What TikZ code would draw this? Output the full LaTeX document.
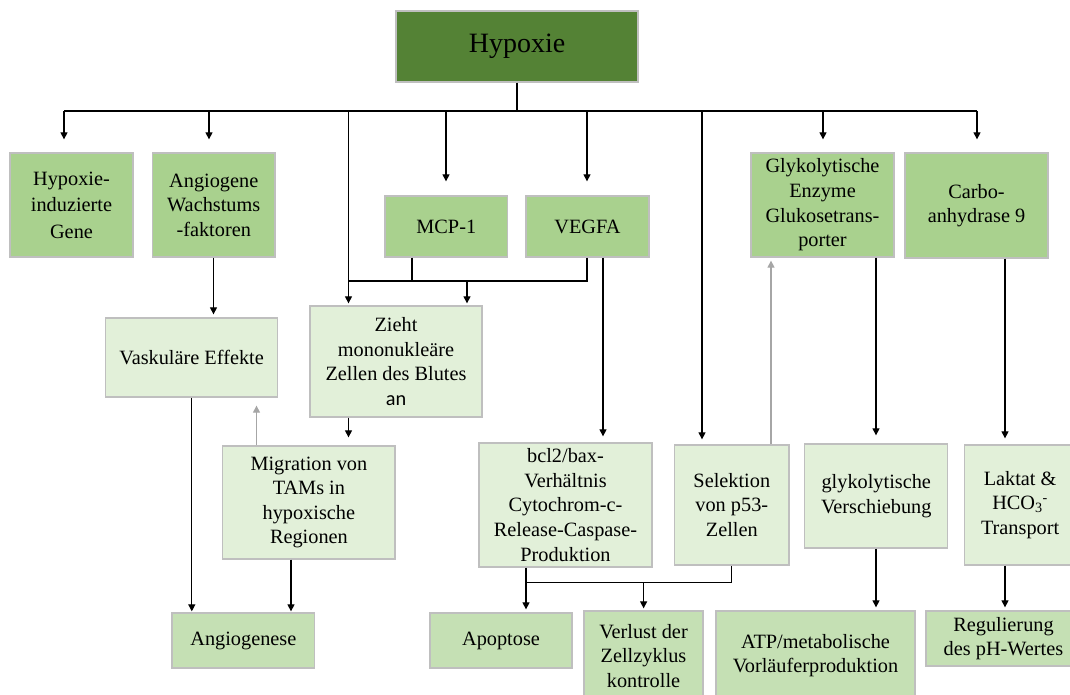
\documentclass[tikz,border=0pt]{standalone}
\usepackage{fontspec}
\setmainfont{Liberation Serif}
\newfontfamily\calibri{Carlito}
\usetikzlibrary{arrows.meta}
\definecolor{dkgreen}{HTML}{548235}
\definecolor{greenA}{HTML}{A9D18E}
\definecolor{greenB}{HTML}{E2F0D9}
\definecolor{greenC}{HTML}{C5E0B4}
\definecolor{boxborder}{HTML}{BFBFBF}
\definecolor{arrowgray}{HTML}{A6A6A6}
\begin{document}
\begin{tikzpicture}[x=1pt,y=-1pt,
  box/.style={draw=boxborder, line width=1.3pt, inner sep=0pt, align=center,
    font=\fontsize{20.3}{24.6}\selectfont, text=black},
  lvA/.style={box, fill=greenA},
  lvB/.style={box, fill=greenB},
  lvC/.style={box, fill=greenC},
  ln/.style={line width=1.2pt, draw=black},
  arr/.style={ln, -{Triangle[width=7pt,length=7pt]}},
  gar/.style={line width=1.2pt, draw=arrowgray, -{Triangle[width=7pt,length=7pt]}}]
\clip (0,0) rectangle (1070,695);
\fill[white] (0,0) rectangle (1070,695);

% top
\node[box, fill=dkgreen, minimum width=242, minimum height=71,
  font=\fontsize{28}{32}\selectfont] (hyp) at (517,46.5) {Hypoxie};

% row 1
\node[lvA, minimum width=123, minimum height=104] (hig) at (71.5,205)
  {Hypoxie-\\[2pt]induzierte\\[2pt]Gene};
\node[lvA, minimum width=122.5, minimum height=104] (awf) at (213.75,205)
  {Angiogene\\Wachstums\\-faktoren};
\node[lvA, minimum width=122.6, minimum height=61] (mcp) at (446.3,226.5) {MCP-1};
\node[lvA, minimum width=123, minimum height=61] (vegfa) at (587.5,226.5) {VEGFA};
\node[lvA, minimum width=143, minimum height=104] (gly) at (822.5,205)
  {Glykolytische\\Enzyme\\Glukosetrans-\\porter};
\node[lvA, minimum width=143, minimum height=105] (carbo) at (976.5,205.5)
  {Carbo-\\anhydrase 9};

% middle
\node[lvB, minimum width=171.8, minimum height=79] (vask) at (191.6,357.5)
  {Vaskuläre Effekte};
\node[lvB, minimum width=172, minimum height=111] (zieht) at (396,361.5)
  {Zieht\\mononukleäre\\Zellen des Blutes\\{\calibri an}};
\node[lvB, minimum width=172.2, minimum height=113] (migr) at (308.9,502.5)
  {Migration von\\TAMs in\\hypoxische\\Regionen};
\node[lvB, minimum width=173, minimum height=124] (bcl2) at (565.5,505)
  {bcl2/bax-\\Verhältnis\\Cytochrom-c-\\Release-Caspase-\\Produktion};
\node[lvB, minimum width=114.4, minimum height=120] (sel) at (731.8,505)
  {Selektion\\von p53-\\Zellen};
\node[lvB, minimum width=143, minimum height=104] (glyv) at (876.25,496)
  {glykolytische\\Verschiebung};
\node[lvB, minimum width=111, minimum height=120] (lakt) at (1020.1,505)
  {Laktat \&\\HCO\textsubscript{3}\textsuperscript{-}\\Transport};

% bottom
\node[lvC, minimum width=142.7, minimum height=55] (angio) at (243.35,640.5) {Angiogenese};
\node[lvC, minimum width=142, minimum height=55] (apo) at (501,640.5) {Apoptose};
\node[lvC, minimum width=119, minimum height=90] (verl) at (643.5,656)
  {Verlust der\\Zellzyklus\\kontrolle};
\node[lvC, minimum width=199, minimum height=89] (atp) at (815.5,655.5)
  {ATP/metabolische\\Vorläuferproduktion};
\node[lvC, minimum width=155, minimum height=55] (reg) at (1003.5,638.5)
  {Regulierung\\des pH-Wertes};

% bus from Hypoxie
\coordinate (j0) at (517,111);
\coordinate (bA) at (64,111);
\coordinate (bB) at (209,111);
\coordinate (bC) at (348.5,111);
\coordinate (bD) at (446,111);
\coordinate (bE) at (587,111);
\coordinate (bF) at (702,111);
\coordinate (bG) at (823,111);
\coordinate (bH) at (977,111);
\draw[ln] (hyp.south) -- (j0);
\draw[ln] (bA) -- (bH);
\draw[arr, shorten >=13pt] (bA) -- (bA |- hig.north);
\draw[arr, shorten >=13pt] (bB) -- (bB |- awf.north);
\draw[arr, shorten >=2pt] (bC) -- (bC |- zieht.north);
\draw[arr, shorten >=14pt] (bD) -- (bD |- mcp.north);
\draw[arr, shorten >=14pt] (bE) -- (bE |- vegfa.north);
\draw[arr, shorten >=5pt] (bF) -- (bF |- sel.north);
\draw[arr, shorten >=13pt] (bG) -- (bG |- gly.north);
\draw[arr, shorten >=13pt] (bH) -- (bH |- carbo.north);

% MCP-1 / VEGFA to Zieht
\coordinate (mA) at (412,281);
\coordinate (mB) at (587,281);
\coordinate (mC) at (467,281);
\coordinate (mL) at (348.5,281);
\draw[ln] (mA |- mcp.south) -- (mA);
\draw[ln] (mB |- vegfa.south) -- (mB) -- (mL);
\draw[arr, shorten >=2pt] (mC) -- (mC |- zieht.north);

% VEGFA to bcl2
\coordinate (vB) at (603,0);
\draw[arr, shorten >=6pt] (vB |- vegfa.south) -- (vB |- bcl2.north);

% glykolytische Enzyme to Verschiebung, Carbo to Laktat
\coordinate (gX) at (876,0);
\coordinate (cX) at (1005,0);
\draw[arr, shorten >=8pt] (gX |- gly.south) -- (gX |- glyv.north);
\draw[arr, shorten >=6pt] (cX |- carbo.south) -- (cX |- lakt.north);

% Selektion up to Glykolytische (gray)
\coordinate (sX) at (771,0);
\draw[gar, shorten >=3pt] (sX |- sel.north) -- (sX |- gly.south);

% left column
\coordinate (aX) at (213.5,0);
\draw[arr, shorten >=3pt] (aX |- awf.south) -- (aX |- vask.north);
\draw[arr, shorten >=8pt] (bC |- zieht.south) -- (bC |- migr.north);
\coordinate (tX) at (256.5,0);
\draw[gar, shorten >=8pt] (tX |- migr.north) -- (tX |- vask.south);
\coordinate (vX) at (191.8,0);
\draw[arr, shorten >=1pt] (vX |- vask.south) -- (vX |- angio.north);
\coordinate (rX) at (291,0);
\draw[arr, shorten >=1pt] (rX |- migr.south) -- (rX |- angio.north);

% bcl2 / Selektion to Apoptose and Verlust
\coordinate (pA) at (526,582.7);
\coordinate (pB) at (731.5,582.7);
\coordinate (pC) at (643.6,582.7);
\draw[ln] (pA) -- (pB) -- (pB |- sel.south);
\draw[arr, shorten >=3pt] (pA |- bcl2.south) -- (pA |- apo.north);
\draw[arr, shorten >=2pt] (pC) -- (pC |- verl.north);

% bottom right
\draw[arr, shorten >=3pt] (gX |- glyv.south) -- (gX |- atp.north);
\draw[arr, shorten >=3pt] (cX |- lakt.south) -- (cX |- reg.north);
\end{tikzpicture}
\end{document}
